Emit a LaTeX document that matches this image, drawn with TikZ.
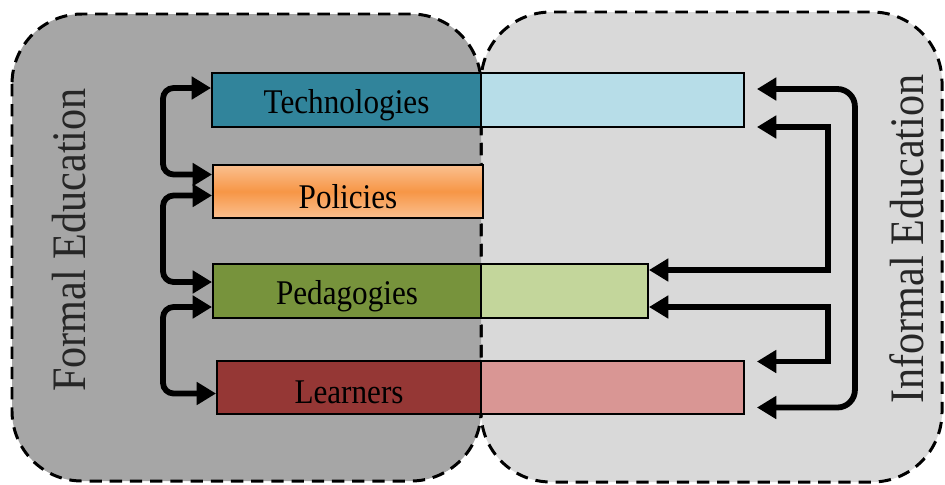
\documentclass[tikz,border=0pt]{standalone}
\usepackage{fontspec}
\setmainfont{Liberation Serif}
\usetikzlibrary{arrows.meta,calc}
\definecolor{formalbg}{HTML}{A6A6A6}
\definecolor{informalbg}{HTML}{D9D9D9}
\definecolor{techdark}{HTML}{31849B}
\definecolor{techlight}{HTML}{B7DDE8}
\definecolor{poltop}{HTML}{FAC090}
\definecolor{polmid}{HTML}{F79646}
\definecolor{peddark}{HTML}{77933C}
\definecolor{pedlight}{HTML}{C3D69B}
\definecolor{learndark}{HTML}{953735}
\definecolor{learnlight}{HTML}{D99694}
\newcommand{\bt}[1]{\raisebox{-3pt}[\height][\depth]{\scalebox{0.9}[1]{\fontsize{19.7pt}{22pt}\selectfont #1}}}
\newcommand{\lt}[1]{\scalebox{1}[1.14]{\fontsize{24pt}{26pt}\selectfont #1}}

\begin{document}
\begin{tikzpicture}[x=0.02cm,y=-0.02cm,
   blob/.style={line width=1.7pt,dash pattern=on 7pt off 4.5pt,rounded corners=1.4cm},
   bar/.style={draw=black,line width=1.1pt,inner sep=0pt,outer sep=0pt,minimum height=1.07cm},
   biarrow/.style={line width=3.3pt,{Triangle[length=11pt,width=12.5pt]}-{Triangle[length=11pt,width=12.5pt]}}]
   \useasboundingbox (0,0) rectangle (945,484);
   % the two areas
   \filldraw[fill=informalbg,draw=black,blob] (481,12) rectangle (942,482);
   \filldraw[fill=formalbg,draw=black,blob] (12,14) rectangle (481,481);
   \draw (85,240) node[rotate=90,anchor=base,text=black!85] {\lt{Formal Education}};
   \draw (923,239) node[rotate=90,anchor=base,text=black!85] {\lt{Informal Education}};
   % the bars
   \draw (346.5,100) node[bar,fill=techdark,minimum width=5.38cm] (tech) {\bt{Technologies}};
   \draw (tech.east) node[bar,fill=techlight,anchor=west,minimum width=5.26cm] (techR) {};
   \draw (348,191.5) node[bar,top color=poltop,bottom color=poltop,middle color=polmid,minimum width=5.4cm] (pol) {\bt{Policies}};
   \draw (347,291) node[bar,fill=peddark,minimum width=5.36cm] (ped) {\bt{Pedagogies}};
   \draw (ped.east) node[bar,fill=pedlight,anchor=west,minimum width=3.34cm] (pedR) {};
   \draw (349,387.5) node[bar,fill=learndark,minimum width=5.28cm] (learn) {\bt{Learners}};
   \draw (learn.east) node[bar,fill=learnlight,anchor=west,minimum width=5.26cm] (learnR) {};
   % formal side
   \draw[biarrow,rounded corners=6pt] ($(tech.west)+(-1,-12)$) -- ++(-48,0) |- ($(pol.west)+(-1,-17)$);
   \draw[biarrow,rounded corners=6pt] ($(pol.west)+(-1,4)$) -- ++(-49,0) |- ($(ped.west)+(-1,-9)$);
   \draw[biarrow,rounded corners=6pt] ($(ped.west)+(-1,16)$) -- ++(-49,0) |- ($(learn.west)+(-1,6)$);
   % informal side
   \draw[biarrow,rounded corners=10pt] ($(techR.east)+(13,-11)$) -- ++(98,0) |- ($(learnR.east)+(13,20)$);
   \draw[biarrow] ($(techR.east)+(13,27)$) -- ++(71,0) |- ($(pedR.east)+(1,-21)$);
   \draw[biarrow] ($(pedR.east)+(1,16)$) -- ++(179,0) |- ($(learnR.east)+(13,-26)$);
\end{tikzpicture}
\end{document}
